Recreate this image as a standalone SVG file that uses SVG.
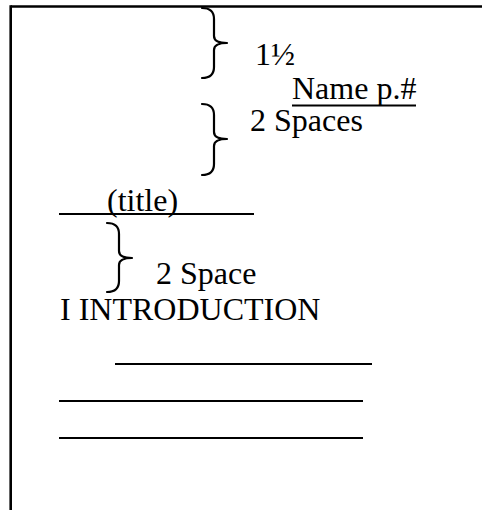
<svg xmlns="http://www.w3.org/2000/svg" width="482" height="510" viewBox="0 0 482 510">
  <style>
    .t { font-family: "Liberation Serif", "Times New Roman", serif; font-size: 32px; fill: #000; }
    .brace { fill: none; stroke: #000; stroke-width: 2.2; stroke-linecap: round; stroke-linejoin: round; }
    .rule { stroke: #000; stroke-width: 2; }
    .edge { stroke: #000; stroke-width: 2.6; }
  </style>
  <rect width="482" height="510" fill="#fff"/>

  <!-- page edge: top and left -->
  <g id="page">
    <line class="edge" x1="10.7" y1="6.5" x2="482" y2="6.5"/>
    <line class="edge" x1="10.7" y1="5.2" x2="10.7" y2="510"/>
  </g>

  <!-- top margin marker -->
  <g id="margin">
    <path class="brace" d="M202,8 Q214,8 214,19 L214,36 Q214,43 227,43 Q214,43 214,50 L214,67 Q214,78 202,78"/>
    <text class="t" x="255" y="65">1½</text>
  </g>

  <!-- running header -->
  <g id="header">
    <text class="t" x="292" y="99">Name p.#</text>
    <line class="rule" x1="292" y1="105.5" x2="416" y2="105.5"/>
  </g>

  <!-- gap below header -->
  <g id="gap-header">
    <path class="brace" d="M202,104 Q214,104 214,115 L214,132 Q214,139 227,139 Q214,139 214,146 L214,164 Q214,175 202,175"/>
    <text class="t" x="250" y="131">2 Spaces</text>
  </g>

  <!-- title line -->
  <g id="title">
    <line class="rule" x1="59" y1="214" x2="254" y2="214"/>
    <text class="t" x="107" y="211">(title)</text>
  </g>

  <!-- gap below title -->
  <g id="gap-title">
    <path class="brace" d="M107,223 Q119,223 119,234 L119,251 Q119,258 132,258 Q119,258 119,265 L119,281 Q119,292 107,292"/>
    <text class="t" x="156" y="284">2 Space</text>
  </g>

  <!-- first section heading -->
  <g id="intro">
    <text class="t" x="60" y="320">I INTRODUCTION</text>
  </g>

  <!-- body text lines -->
  <g id="body">
    <line class="rule" x1="115" y1="364" x2="372" y2="364"/>
    <line class="rule" x1="59" y1="401" x2="363" y2="401"/>
    <line class="rule" x1="59" y1="438" x2="363" y2="438"/>
  </g>
</svg>
